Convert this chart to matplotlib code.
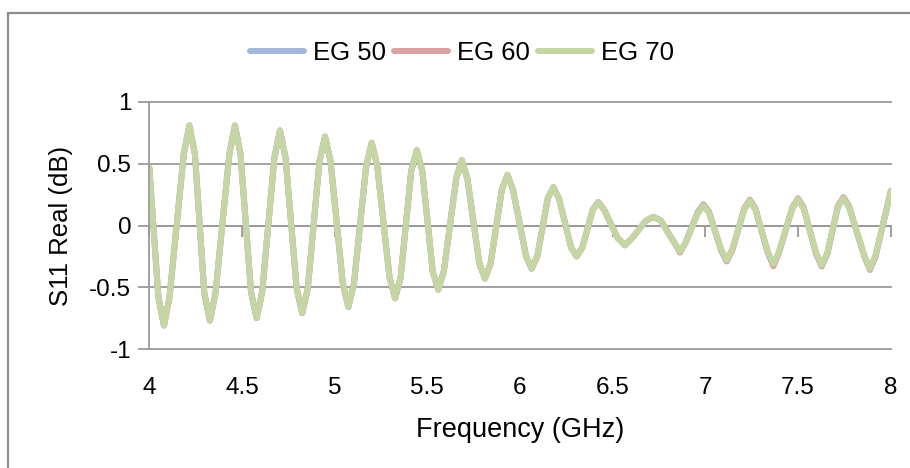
import matplotlib
matplotlib.use('Agg')
import matplotlib.pyplot as plt
from matplotlib.patches import Rectangle

plt.rcParams['font.family'] = ['Liberation Sans', 'DejaVu Sans']
plt.rcParams['font.size'] = 17.5

# S11 real part (GHz, dB)
freq = [4.000,
        4.049, 4.079, 4.109, 4.186, 4.216, 4.246,
        4.297, 4.327, 4.357, 4.432, 4.462, 4.492,
        4.549, 4.579, 4.609, 4.675, 4.705, 4.735,
        4.795, 4.825, 4.855, 4.918, 4.948, 4.978,
        5.044, 5.074, 5.104, 5.170, 5.200, 5.230,
        5.296, 5.326, 5.356, 5.413, 5.443, 5.473,
        5.529, 5.559, 5.589, 5.656, 5.686, 5.716,
        5.781, 5.811, 5.841, 5.902, 5.932, 5.962,
        6.033, 6.063, 6.093, 6.150, 6.180, 6.210,
        6.276, 6.306, 6.336, 6.393, 6.423, 6.453,
        6.526, 6.566, 6.606, 6.680, 6.720, 6.760,
        6.833, 6.863, 6.893, 6.960, 6.990, 7.020,
        7.085, 7.115, 7.145, 7.210, 7.240, 7.270,
        7.337, 7.367, 7.397, 7.470, 7.500, 7.530,
        7.598, 7.628, 7.658, 7.715, 7.745, 7.775,
        7.858, 7.888, 7.918,
        8.000]

eg70 = [0.47,
        -0.58, -0.81, -0.58, 0.58, 0.81, 0.58,
        -0.55, -0.77, -0.55, 0.58, 0.81, 0.58,
        -0.54, -0.75, -0.54, 0.55, 0.77, 0.55,
        -0.51, -0.71, -0.51, 0.52, 0.72, 0.52,
        -0.47, -0.66, -0.47, 0.48, 0.67, 0.48,
        -0.42, -0.59, -0.42, 0.44, 0.61, 0.44,
        -0.37, -0.52, -0.37, 0.38, 0.53, 0.38,
        -0.31, -0.43, -0.31, 0.29, 0.41, 0.29,
        -0.25, -0.35, -0.25, 0.22, 0.31, 0.22,
        -0.18, -0.25, -0.18, 0.13, 0.19, 0.13,
        -0.10, -0.16, -0.10, 0.04, 0.07, 0.04,
        -0.14, -0.21, -0.14, 0.10, 0.16, 0.10,
        -0.19, -0.28, -0.19, 0.13, 0.20, 0.13,
        -0.21, -0.31, -0.21, 0.14, 0.21, 0.14,
        -0.22, -0.32, -0.22, 0.15, 0.22, 0.15,
        -0.24, -0.35, -0.24,
        0.27]

eg60 = [0.47,
        -0.58, -0.81, -0.58, 0.58, 0.81, 0.58,
        -0.55, -0.77, -0.55, 0.58, 0.81, 0.58,
        -0.54, -0.75, -0.54, 0.55, 0.77, 0.55,
        -0.51, -0.71, -0.51, 0.52, 0.72, 0.52,
        -0.47, -0.66, -0.47, 0.48, 0.67, 0.48,
        -0.42, -0.59, -0.42, 0.44, 0.61, 0.44,
        -0.37, -0.52, -0.37, 0.38, 0.53, 0.38,
        -0.31, -0.43, -0.31, 0.29, 0.41, 0.29,
        -0.25, -0.35, -0.25, 0.22, 0.31, 0.22,
        -0.18, -0.25, -0.18, 0.13, 0.19, 0.13,
        -0.10, -0.16, -0.10, 0.04, 0.07, 0.04,
        -0.14, -0.22, -0.14, 0.11, 0.17, 0.11,
        -0.20, -0.29, -0.20, 0.14, 0.21, 0.14,
        -0.22, -0.33, -0.22, 0.15, 0.22, 0.15,
        -0.23, -0.33, -0.23, 0.16, 0.23, 0.16,
        -0.25, -0.36, -0.25,
        0.28]

eg50 = [0.47,
        -0.58, -0.81, -0.58, 0.58, 0.81, 0.58,
        -0.55, -0.77, -0.55, 0.58, 0.81, 0.58,
        -0.54, -0.75, -0.54, 0.55, 0.77, 0.55,
        -0.51, -0.71, -0.51, 0.52, 0.72, 0.52,
        -0.47, -0.66, -0.47, 0.48, 0.67, 0.48,
        -0.42, -0.59, -0.42, 0.44, 0.61, 0.44,
        -0.37, -0.52, -0.37, 0.38, 0.53, 0.38,
        -0.31, -0.43, -0.31, 0.29, 0.41, 0.29,
        -0.25, -0.35, -0.25, 0.22, 0.31, 0.22,
        -0.18, -0.25, -0.18, 0.13, 0.19, 0.13,
        -0.10, -0.16, -0.10, 0.04, 0.07, 0.04,
        -0.14, -0.21, -0.14, 0.11, 0.17, 0.11,
        -0.20, -0.29, -0.20, 0.13, 0.20, 0.13,
        -0.22, -0.32, -0.22, 0.14, 0.21, 0.14,
        -0.23, -0.33, -0.23, 0.15, 0.22, 0.15,
        -0.25, -0.35, -0.25,
        0.27]

series = [("EG 50", eg50, "#a3b7da"),
          ("EG 60", eg60, "#d9a2a2"),
          ("EG 70", eg70, "#c3d6a4")]

xticks = [4, 4.5, 5, 5.5, 6, 6.5, 7, 7.5, 8]
xticklabels = ["4", "4.5", "5", "5.5", "6", "6.5", "7", "7.5", "8"]
yticks = [-1, -0.5, 0, 0.5, 1]
yticklabels = ["-1", "-0.5", "0", "0.5", "1"]

grid_c = "#9a9a9a"

fig = plt.figure(figsize=(9.1, 4.68), dpi=100)
# chart border: only left and top edges fall inside the picture
fig.patches.append(Rectangle((8 / 910, -0.1), 1.2, 1.1 - 13 / 468,
                             transform=fig.transFigure, fill=False,
                             edgecolor="#8c8c8c", linewidth=1.6))

ax = fig.add_axes([149.3 / 910, 1 - 349 / 468, 741.4 / 910, 247 / 468])

for name, vals, col in series:
    ax.plot(freq, vals, color=col, lw=4.3, label=name,
            solid_joinstyle='round', solid_capstyle='round')

ax.set_xlim(4, 8)
ax.set_ylim(-1, 1)
ax.set_xticks(xticks)
ax.set_xticklabels(xticklabels)
ax.set_yticks(yticks)
ax.set_yticklabels(yticklabels)

for s in ['top', 'right', 'bottom']:
    ax.spines[s].set_visible(False)
ax.spines['left'].set_color(grid_c)
ax.spines['left'].set_linewidth(1.3)

ax.yaxis.grid(True, color=grid_c, lw=1.3, clip_on=False)
ax.set_axisbelow(True)

ax.tick_params(axis='x', length=0, pad=20)
ax.tick_params(axis='y', length=8, width=1.3, color=grid_c, pad=5)

# x axis line crosses at zero with downward ticks
ax.axhline(0, color=grid_c, lw=1.3, zorder=0.5)
ax.plot(xticks, [0] * len(xticks), linestyle='none', marker=3,
        markersize=8, markeredgewidth=1.3, color=grid_c, zorder=0.5,
        clip_on=False)

ax.set_xlabel("Frequency (GHz)", fontsize=19.5, labelpad=13)
ax.set_ylabel("S11 Real (dB)", fontsize=18.5, labelpad=12)

fig.legend(loc='center', bbox_to_anchor=(462 / 910, 1 - 53 / 468), ncol=3,
           frameon=False, fontsize=18.5, handlelength=2.1, handletextpad=0.35,
           columnspacing=0.3, borderaxespad=0)

plt.savefig("out.png", dpi=100)
plt.close()
